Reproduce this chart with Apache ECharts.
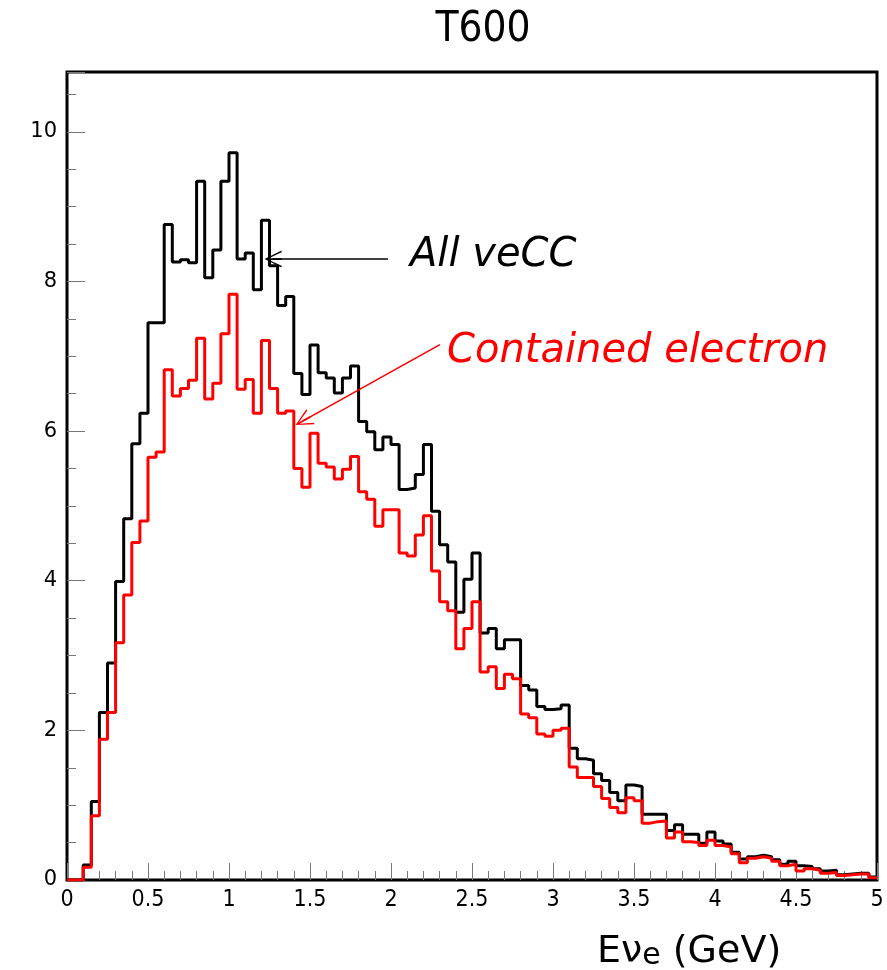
<!DOCTYPE html>
<html>
<head>
<meta charset="utf-8">
<script src="https://cdn.jsdelivr.net/npm/echarts@6/dist/echarts.min.js"></script>
<style>
html,body{margin:0;padding:0;background:#fff;}
#chart{width:887px;height:970px;}
</style>
</head>
<body>
<div id="chart"></div>
<script>
// ---- data (bin width 0.05 GeV, 100 bins from 0 to 5) ----
const binWidth = 0.05;
const xMin = 0, xMax = 5;
const yMin = 0, yMax = 10.8;

const allVeCC = [
  0, 0, 0.20, 1.05, 2.24, 2.90, 3.99, 4.83, 5.83, 6.24,
  7.45, 7.45, 8.76, 8.26, 8.29, 8.25, 9.34, 8.05, 8.42, 9.34,
  9.72, 8.30, 8.38, 7.89, 8.82, 8.21, 7.68, 7.80, 6.77, 6.49,
  7.15, 6.78, 6.71, 6.51, 6.71, 6.87, 6.13, 5.99, 5.75, 5.92,
  5.82, 5.22, 5.24, 5.42, 5.82, 4.93, 4.48, 4.25, 3.58, 4.02,
  4.37, 3.30, 3.36, 3.09, 3.21, 3.21, 2.60, 2.54, 2.32, 2.28,
  2.29, 2.34, 1.76, 1.62, 1.60, 1.42, 1.33, 1.17, 1.06, 1.27,
  1.25, 0.88, 0.88, 0.88, 0.66, 0.74, 0.61, 0.61, 0.49, 0.64,
  0.52, 0.48, 0.37, 0.28, 0.31, 0.33, 0.31, 0.27, 0.21, 0.25,
  0.19, 0.18, 0.15, 0.12, 0.13, 0.07, 0.08, 0.09, 0.09, 0.04
];

const containedElectron = [
  0, 0, 0.17, 0.86, 1.88, 2.24, 3.17, 3.81, 4.51, 4.80,
  5.65, 5.72, 6.82, 6.47, 6.57, 6.68, 7.24, 6.43, 6.64, 7.30,
  7.83, 6.56, 6.69, 6.24, 7.21, 6.57, 6.24, 6.27, 5.50, 5.25,
  5.97, 5.57, 5.52, 5.36, 5.49, 5.66, 5.19, 5.09, 4.73, 4.95,
  4.95, 4.37, 4.33, 4.61, 4.87, 4.13, 3.72, 3.60, 3.09, 3.36,
  3.72, 2.78, 2.85, 2.56, 2.75, 2.69, 2.22, 2.17, 1.95, 1.92,
  2.00, 2.03, 1.51, 1.37, 1.37, 1.25, 1.09, 0.97, 0.90, 1.10,
  1.06, 0.76, 0.78, 0.79, 0.56, 0.64, 0.51, 0.50, 0.46, 0.53,
  0.46, 0.44, 0.35, 0.23, 0.29, 0.31, 0.29, 0.25, 0.19, 0.21,
  0.12, 0.15, 0.13, 0.09, 0.10, 0.06, 0.07, 0.08, 0.08, 0.03
];

const seriesNames = ['All veCC', 'Contained electron'];
const titleText = 'T600';

// annotation arrows in data coordinates [x, y]
const arrowAll = [[1.981, 8.30], [1.272, 8.30]];
const arrowContained = [[2.302, 7.156], [1.457, 6.137]];

// ---- helpers ----
function toSteps(values) {
  const pts = values.map((v, i) => [+(i * binWidth).toFixed(4), v]);
  pts.push([+(values.length * binWidth).toFixed(4), values[values.length - 1]]);
  return pts;
}
const chevron = 'path://M10,0 L20,20 L18,20 L11,5 L11,20 L9,20 L9,5 L2,20 L0,20 Z';

function isMultiple(v, step) {
  const r = v / step;
  return Math.abs(r - Math.round(r)) < 1e-6;
}

const narrowFont = "'Liberation Sans Narrow', 'DejaVu Sans Condensed', 'Roboto Condensed', 'Liberation Sans', sans-serif";
const tickColor = '#777';
const chart = echarts.init(document.getElementById('chart'), null, {renderer: 'canvas'});

const option = {
  animation: false,
  backgroundColor: '#fff',
  grid: {
    left: 67, right: 10, top: 72, bottom: 90,
    show: true, borderColor: '#000', borderWidth: 3, backgroundColor: 'transparent'
  },
  xAxis: [
    {
      type: 'value', min: xMin, max: xMax, interval: 0.1, position: 'bottom',
      axisLine: {show: false}, splitLine: {show: false},
      axisTick: {show: true, inside: true, length: 9, lineStyle: {color: tickColor, width: 1}},
      axisLabel: {show: false}
    },
    {
      type: 'value', min: xMin, max: xMax, interval: 0.5, position: 'bottom',
      axisLine: {show: false}, splitLine: {show: false},
      axisTick: {show: true, inside: true, length: 17, lineStyle: {color: tickColor, width: 1}},
      axisLabel: {
        show: true, margin: 9, color: '#000',
        fontFamily: narrowFont, fontSize: 23,
        formatter: v => String(+v.toFixed(1))
      }
    }
  ],
  yAxis: [
    {
      type: 'value', min: yMin, max: yMax, interval: 0.5, position: 'left',
      axisLine: {show: false}, splitLine: {show: false},
      axisTick: {show: true, inside: true, length: 9, lineStyle: {color: tickColor, width: 1}},
      axisLabel: {
        show: true, margin: 10, color: '#000',
        fontFamily: 'DejaVu Sans', fontSize: 21,
        showMaxLabel: false,
        formatter: v => (isMultiple(v, 2) ? String(Math.round(v)) : '')
      }
    },
    {
      type: 'value', min: yMin, max: yMax, interval: 2, position: 'left', offset: 0,
      axisLine: {show: false}, splitLine: {show: false},
      axisTick: {show: true, inside: true, length: 18, lineStyle: {color: tickColor, width: 1}},
      axisLabel: {show: false}
    }
  ],
  series: [
    {
      name: seriesNames[0], type: 'line', step: 'end',
      xAxisIndex: 0, yAxisIndex: 0,
      data: toSteps(allVeCC), symbol: 'none', showSymbol: false,
      lineStyle: {color: '#000', width: 3}, itemStyle: {color: '#000'},
      z: 2,
      markLine: {
        silent: true, symbol: ['none', chevron], symbolSize: 17,
        label: {show: false},
        lineStyle: {color: '#000', width: 1.6, type: 'solid'},
        data: [[{coord: arrowAll[0]}, {coord: arrowAll[1]}]]
      }
    },
    {
      name: seriesNames[1], type: 'line', step: 'end',
      xAxisIndex: 0, yAxisIndex: 0,
      data: toSteps(containedElectron), symbol: 'none', showSymbol: false,
      lineStyle: {color: '#ff0000', width: 3}, itemStyle: {color: '#ff0000'},
      z: 3,
      markLine: {
        silent: true, symbol: ['none', chevron], symbolSize: 17,
        label: {show: false},
        lineStyle: {color: '#ff0000', width: 1.6, type: 'solid'},
        data: [[{coord: arrowContained[0]}, {coord: arrowContained[1]}]]
      }
    }
  ],
  graphic: [
    {
      type: 'text', x: 483, y: 30,
      style: {text: titleText, fontFamily: narrowFont, fontSize: 42, fill: '#000',
              align: 'center', verticalAlign: 'middle'}
    },
    {
      type: 'text', x: 410, y: 256,
      style: {
        text: seriesNames[0], fontFamily: 'DejaVu Sans', fontStyle: 'italic',
        fontSize: 40, fill: '#000', verticalAlign: 'middle', align: 'left'
      }
    },
    {
      type: 'text', x: 447, y: 352,
      style: {
        text: seriesNames[1], fontFamily: 'DejaVu Sans', fontStyle: 'italic',
        fontSize: 40, fill: '#ff0000', verticalAlign: 'middle', align: 'left'
      }
    },
    {
      type: 'text', x: 597, y: 933,
      style: {
        text: '{a|Eν}{s|e}{a| (GeV)}',
        fill: '#000',
        rich: {
          a: {fontFamily: 'DejaVu Sans', fontSize: 38, lineHeight: 38, verticalAlign: 'top', fill: '#000'},
          s: {fontFamily: 'DejaVu Sans', fontSize: 30, lineHeight: 30, padding: [12, 0, 0, 0], verticalAlign: 'bottom', fill: '#000'}
        }
      }
    }
  ]
};
chart.setOption(option);
</script>
</body>
</html>
